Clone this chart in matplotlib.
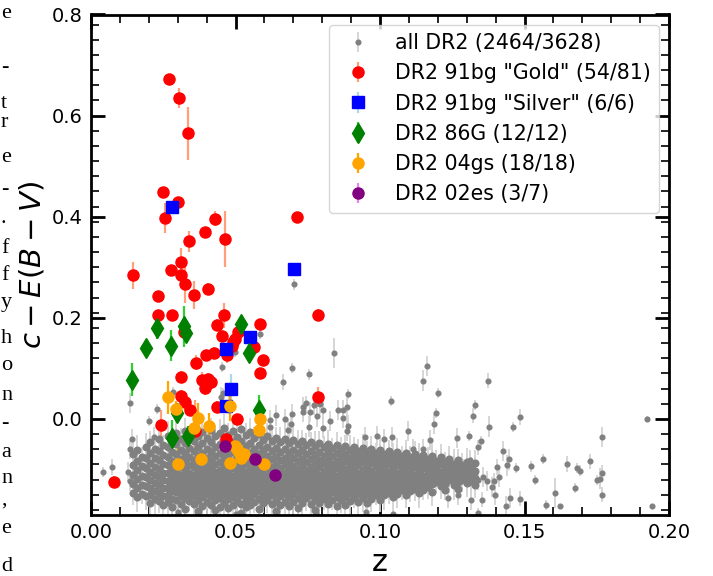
import matplotlib
matplotlib.use("Agg")
import matplotlib.pyplot as plt
from matplotlib.ticker import MultipleLocator

# --- Data ---

# all DR2: dense core, one list of c values per z column
grey_col_z = [
    0.0145, 0.0160, 0.0175, 0.0190, 0.0205, 0.0220, 0.0235, 0.0250, 0.0265, 0.0280,
    0.0295, 0.0310, 0.0325, 0.0340, 0.0355, 0.0370, 0.0385, 0.0400, 0.0415, 0.0430,
    0.0445, 0.0460, 0.0475, 0.0490, 0.0505, 0.0520, 0.0535, 0.0550, 0.0565, 0.0580,
    0.0595, 0.0610, 0.0625, 0.0640, 0.0655, 0.0670, 0.0685, 0.0700, 0.0715, 0.0730,
    0.0745, 0.0760, 0.0775, 0.0790, 0.0805, 0.0820, 0.0835, 0.0850, 0.0865, 0.0880,
    0.0895, 0.0910, 0.0925, 0.0940, 0.0955, 0.0970, 0.0985, 0.1000, 0.1015, 0.1030,
    0.1045, 0.1060, 0.1075, 0.1090, 0.1105, 0.1120, 0.1135, 0.1150, 0.1165, 0.1180,
    0.1195, 0.1210, 0.1225, 0.1240, 0.1255, 0.1270, 0.1285, 0.1300, 0.1315, 0.1330,
]
grey_col_c = [
    [-0.070, -0.092, -0.110, -0.128, -0.146],
    [-0.062, -0.083, -0.101, -0.119, -0.137, -0.155],
    [-0.075, -0.094, -0.112, -0.130, -0.149],
    [-0.055, -0.078, -0.097, -0.115, -0.133, -0.152],
    [-0.046, -0.068, -0.087, -0.104, -0.120, -0.136, -0.151, -0.166],
    [-0.059, -0.078, -0.095, -0.111, -0.127, -0.143, -0.159],
    [-0.040, -0.063, -0.082, -0.099, -0.115, -0.130, -0.146, -0.162],
    [-0.052, -0.072, -0.090, -0.106, -0.121, -0.137, -0.153, -0.170],
    [-0.033, -0.056, -0.075, -0.092, -0.107, -0.122, -0.136, -0.150, -0.165],
    [-0.045, -0.066, -0.084, -0.099, -0.114, -0.129, -0.143, -0.158, -0.175],
    [-0.028, -0.050, -0.070, -0.087, -0.102, -0.117, -0.131, -0.145, -0.160],
    [-0.040, -0.061, -0.079, -0.095, -0.110, -0.124, -0.138, -0.152, -0.168],
    [-0.024, -0.047, -0.067, -0.084, -0.099, -0.113, -0.127, -0.141, -0.156, -0.178],
    [-0.036, -0.058, -0.076, -0.092, -0.106, -0.120, -0.134, -0.148, -0.163],
    [-0.021, -0.044, -0.064, -0.081, -0.096, -0.110, -0.124, -0.138, -0.152, -0.169],
    [-0.033, -0.055, -0.073, -0.089, -0.103, -0.117, -0.131, -0.145, -0.160, -0.183],
    [-0.026, -0.048, -0.067, -0.084, -0.099, -0.113, -0.127, -0.141, -0.155, -0.172],
    [-0.038, -0.059, -0.077, -0.093, -0.107, -0.121, -0.135, -0.149, -0.164],
    [-0.022, -0.045, -0.065, -0.082, -0.097, -0.111, -0.125, -0.139, -0.153, -0.170],
    [-0.034, -0.056, -0.074, -0.090, -0.104, -0.118, -0.132, -0.146, -0.161, -0.180],
    [-0.027, -0.049, -0.068, -0.085, -0.100, -0.114, -0.128, -0.142, -0.157, -0.174],
    [-0.018, -0.041, -0.061, -0.078, -0.094, -0.108, -0.122, -0.136, -0.150, -0.166],
    [-0.031, -0.053, -0.072, -0.088, -0.103, -0.117, -0.131, -0.145, -0.159, -0.177],
    [-0.024, -0.046, -0.066, -0.083, -0.098, -0.112, -0.126, -0.140, -0.154, -0.170],
    [-0.036, -0.057, -0.075, -0.091, -0.105, -0.119, -0.133, -0.147, -0.162],
    [-0.020, -0.043, -0.063, -0.080, -0.095, -0.109, -0.123, -0.137, -0.151, -0.168, -0.186],
    [-0.032, -0.054, -0.073, -0.089, -0.104, -0.118, -0.132, -0.146, -0.160, -0.175],
    [-0.026, -0.048, -0.068, -0.085, -0.100, -0.114, -0.128, -0.142, -0.156, -0.171],
    [-0.038, -0.059, -0.077, -0.093, -0.107, -0.121, -0.135, -0.149, -0.164],
    [-0.029, -0.051, -0.070, -0.086, -0.101, -0.115, -0.129, -0.143, -0.158, -0.178],
    [-0.041, -0.061, -0.079, -0.094, -0.108, -0.122, -0.136, -0.150, -0.166],
    [-0.034, -0.055, -0.073, -0.089, -0.104, -0.118, -0.132, -0.146, -0.161],
    [-0.044, -0.063, -0.080, -0.095, -0.109, -0.123, -0.137, -0.151, -0.168],
    [-0.037, -0.057, -0.075, -0.091, -0.105, -0.119, -0.133, -0.147, -0.163, -0.182],
    [-0.046, -0.065, -0.082, -0.097, -0.111, -0.125, -0.139, -0.153, -0.170],
    [-0.039, -0.059, -0.077, -0.092, -0.106, -0.120, -0.134, -0.148, -0.164],
    [-0.048, -0.067, -0.083, -0.098, -0.112, -0.126, -0.140, -0.155, -0.172],
    [-0.041, -0.061, -0.078, -0.093, -0.107, -0.121, -0.135, -0.149, -0.165],
    [-0.050, -0.068, -0.084, -0.099, -0.113, -0.127, -0.141, -0.156, -0.176],
    [-0.043, -0.062, -0.079, -0.094, -0.108, -0.122, -0.136, -0.150, -0.166],
    [-0.052, -0.070, -0.086, -0.100, -0.114, -0.128, -0.142, -0.157],
    [-0.045, -0.064, -0.080, -0.095, -0.109, -0.123, -0.137, -0.151, -0.168],
    [-0.054, -0.071, -0.087, -0.101, -0.115, -0.129, -0.143, -0.158, -0.180],
    [-0.047, -0.065, -0.081, -0.096, -0.110, -0.124, -0.138, -0.152, -0.167],
    [-0.056, -0.073, -0.088, -0.102, -0.116, -0.130, -0.144, -0.159],
    [-0.049, -0.066, -0.082, -0.097, -0.111, -0.125, -0.139, -0.153, -0.169],
    [-0.058, -0.074, -0.089, -0.103, -0.117, -0.131, -0.145, -0.160],
    [-0.051, -0.068, -0.083, -0.098, -0.112, -0.126, -0.140, -0.154, -0.172],
    [-0.060, -0.076, -0.090, -0.104, -0.118, -0.132, -0.146, -0.161],
    [-0.053, -0.069, -0.084, -0.099, -0.113, -0.127, -0.141, -0.155, -0.170],
    [-0.062, -0.077, -0.091, -0.105, -0.119, -0.133, -0.147, -0.162],
    [-0.055, -0.070, -0.085, -0.100, -0.114, -0.128, -0.142, -0.156],
    [-0.064, -0.078, -0.092, -0.106, -0.120, -0.134, -0.148, -0.164],
    [-0.057, -0.072, -0.086, -0.101, -0.115, -0.129, -0.143, -0.157],
    [-0.066, -0.080, -0.093, -0.107, -0.121, -0.135, -0.149, -0.166],
    [-0.059, -0.073, -0.087, -0.102, -0.116, -0.130, -0.144, -0.158],
    [-0.068, -0.081, -0.094, -0.108, -0.122, -0.136, -0.150],
    [-0.061, -0.075, -0.088, -0.103, -0.117, -0.131, -0.145, -0.160],
    [-0.070, -0.083, -0.096, -0.109, -0.123, -0.137, -0.151],
    [-0.063, -0.076, -0.090, -0.104, -0.118, -0.132, -0.146],
    [-0.072, -0.085, -0.098, -0.111, -0.125, -0.139, -0.154],
    [-0.065, -0.078, -0.092, -0.106, -0.120, -0.134, -0.148],
    [-0.074, -0.087, -0.100, -0.113, -0.127, -0.141],
    [-0.067, -0.080, -0.094, -0.108, -0.122, -0.136, -0.151],
    [-0.076, -0.089, -0.102, -0.115, -0.129, -0.143],
    [-0.069, -0.082, -0.096, -0.110, -0.124, -0.138],
    [-0.078, -0.091, -0.104, -0.117, -0.131, -0.146],
    [-0.071, -0.084, -0.098, -0.112, -0.126, -0.140],
    [-0.080, -0.093, -0.106, -0.120, -0.134],
    [-0.073, -0.087, -0.101, -0.115, -0.129, -0.144],
    [-0.083, -0.097, -0.111, -0.125],
    [-0.076, -0.090, -0.104, -0.118, -0.132],
    [-0.086, -0.100, -0.114, -0.128, -0.141],
    [-0.079, -0.093, -0.107, -0.121],
    [-0.089, -0.103, -0.117, -0.131],
    [-0.082, -0.096, -0.110, -0.124, -0.138],
    [-0.092, -0.106, -0.120],
    [-0.085, -0.099, -0.113, -0.127],
    [-0.095, -0.109, -0.123],
    [-0.088, -0.102, -0.116, -0.130],
]
grey_col_err = [
    0.025, 0.030, 0.020, 0.028, 0.022, 0.030, 0.025, 0.020, 0.028, 0.024,
    0.030, 0.022, 0.026, 0.020, 0.028, 0.025, 0.022, 0.030, 0.024, 0.020,
    0.026, 0.028, 0.022, 0.025, 0.030, 0.020, 0.024, 0.028, 0.022, 0.026,
    0.020, 0.025, 0.028, 0.022, 0.030, 0.024, 0.020, 0.026, 0.028, 0.022,
    0.025, 0.020, 0.030, 0.024, 0.022, 0.028, 0.020, 0.026, 0.025, 0.022,
    0.030, 0.020, 0.024, 0.028, 0.022, 0.026, 0.020, 0.025, 0.030, 0.022,
    0.024, 0.028, 0.020, 0.026, 0.022, 0.025, 0.030, 0.020, 0.024, 0.028,
    0.022, 0.026, 0.020, 0.025, 0.030, 0.022, 0.024, 0.028, 0.020, 0.026,
]

# all DR2: isolated points outside the core
grey_out_z = [
    0.0043, 0.0074, 0.0129, 0.0135, 0.0143, 0.0134, 0.0202, 0.0229, 0.0285, 0.0219,
    0.0135, 0.0452, 0.0498, 0.0585, 0.0702, 0.0697, 0.0841, 0.0755, 0.0663, 0.0890,
    0.1037, 0.1150, 0.1164, 0.1202, 0.1375, 0.1329, 0.1321, 0.1194, 0.1187, 0.1377,
    0.1461, 0.1484, 0.1923, 0.1769, 0.1098, 0.1173, 0.1268, 0.1309, 0.1348, 0.1338,
    0.1424, 0.1563, 0.1521, 0.1536, 0.1646, 0.1683, 0.1692, 0.1727, 0.1767, 0.1750,
    0.1761, 0.1769, 0.1675, 0.1606, 0.1574, 0.1623, 0.1940, 0.1484, 0.1450, 0.1436,
    0.1340, 0.1044, 0.1470, 0.1438, 0.1446, 0.1404, 0.1413, 0.1394, 0.1386, 0.1369,
    0.1357, 0.1398, 0.1311, 0.1288, 0.1322, 0.1338, 0.1314, 0.1352, 0.1271, 0.1237,
    0.0732, 0.0744, 0.0771, 0.0671, 0.0640, 0.0873, 0.0783, 0.0827, 0.0890, 0.0887,
    0.0691, 0.0683, 0.0754, 0.0802, 0.0948, 0.0988, 0.1015, 0.1040, 0.1113, 0.1148,
    0.0619, 0.0621, 0.0873, 0.0450, 0.0458, 0.0479, 0.0694, 0.0735, 0.0758, 0.0792,
    0.0804, 0.0856, 0.0885, 0.0300, 0.0500, 0.0780, 0.0950,
]
grey_out_c = [
    -0.105, -0.095, -0.105, 0.032, -0.039, -0.059, -0.004, 0.019, 0.054, -0.035,
    -0.122, 0.103, 0.132, 0.169, 0.266, 0.101, 0.131, 0.088, 0.073, 0.050,
    0.035, 0.076, 0.104, 0.051, 0.076, 0.027, 0.006, 0.012, -0.010, -0.015,
    -0.016, 0.004, 0.000, -0.036, -0.024, -0.041, -0.037, -0.033, -0.043, -0.056,
    -0.064, -0.080, -0.094, -0.120, -0.089, -0.097, -0.102, -0.084, -0.107, -0.120,
    -0.118, -0.150, -0.136, -0.147, -0.171, -0.173, -0.173, -0.158, -0.157, -0.173,
    -0.186, -0.189, -0.097, -0.092, -0.080, -0.095, -0.114, -0.122, -0.135, -0.122,
    -0.115, -0.151, -0.081, -0.099, -0.101, -0.120, -0.160, -0.160, -0.151, -0.156,
    0.013, 0.031, 0.027, 0.000, 0.007, 0.002, 0.005, -0.004, -0.013, -0.023,
    -0.010, -0.021, -0.015, -0.017, -0.035, -0.033, -0.039, -0.036, -0.059, -0.059,
    -0.003, -0.015, 0.018, 0.043, 0.051, 0.029, 0.010, 0.023, 0.013, 0.029,
    0.017, 0.017, 0.023, -0.185, -0.188, -0.187, -0.185,
]
grey_out_err = [
    0.010, 0.015, 0.020, 0.020, 0.020, 0.020, 0.010, 0.010, 0.010, 0.020,
    0.020, 0.010, 0.010, 0.010, 0.010, 0.010, 0.030, 0.010, 0.015, 0.010,
    0.010, 0.020, 0.020, 0.010, 0.015, 0.010, 0.015, 0.010, 0.020, 0.020,
    0.010, 0.015, 0.005, 0.020, 0.020, 0.020, 0.020, 0.010, 0.010, 0.015,
    0.020, 0.010, 0.010, 0.010, 0.015, 0.010, 0.010, 0.015, 0.015, 0.010,
    0.020, 0.015, 0.010, 0.030, 0.010, 0.005, 0.005, 0.015, 0.020, 0.020,
    0.010, 0.010, 0.010, 0.020, 0.020, 0.015, 0.020, 0.015, 0.020, 0.020,
    0.020, 0.020, 0.020, 0.020, 0.015, 0.020, 0.020, 0.015, 0.020, 0.020,
    0.020, 0.015, 0.020, 0.020, 0.020, 0.020, 0.020, 0.020, 0.020, 0.020,
    0.020, 0.020, 0.020, 0.020, 0.020, 0.020, 0.020, 0.020, 0.020, 0.020,
    0.020, 0.020, 0.020, 0.020, 0.010, 0.020, 0.020, 0.020, 0.020, 0.020,
    0.020, 0.020, 0.020, 0.015, 0.015, 0.015, 0.015,
]

# 91bg "Gold"
gold_z = [
    0.0270, 0.0306, 0.0337, 0.0248, 0.0302, 0.0255, 0.0429, 0.0394, 0.0340, 0.0462,
    0.0712, 0.0144, 0.0311, 0.0278, 0.0311, 0.0325, 0.0405, 0.0357, 0.0231, 0.0231,
    0.0279, 0.0459, 0.0785, 0.0437, 0.0586, 0.0323, 0.0453, 0.0498, 0.0510, 0.0565,
    0.0471, 0.0487, 0.0398, 0.0425, 0.0362, 0.0596, 0.0585, 0.0311, 0.0383, 0.0406,
    0.0415, 0.0394, 0.0785, 0.0311, 0.0325, 0.0343, 0.0437, 0.0504, 0.0360, 0.0243,
    0.0467, 0.0080, 0.0400, 0.0490,
]
gold_c = [
    0.673, 0.635, 0.565, 0.449, 0.429, 0.398, 0.396, 0.369, 0.351, 0.356,
    0.399, 0.284, 0.311, 0.294, 0.284, 0.266, 0.258, 0.245, 0.243, 0.205,
    0.206, 0.205, 0.205, 0.185, 0.187, 0.172, 0.165, 0.159, 0.172, 0.142,
    0.126, 0.144, 0.126, 0.130, 0.111, 0.116, 0.090, 0.083, 0.078, 0.079,
    0.073, 0.062, 0.043, 0.045, 0.033, 0.018, 0.023, 0.000, -0.023, -0.012,
    -0.039, -0.124, 0.070, 0.152,
]
gold_err = [
    0.008, 0.019, 0.052, 0.008, 0.010, 0.030, 0.015, 0.010, 0.020, 0.055,
    0.010, 0.027, 0.028, 0.010, 0.012, 0.036, 0.010, 0.027, 0.008, 0.008,
    0.010, 0.025, 0.012, 0.012, 0.010, 0.012, 0.010, 0.012, 0.010, 0.010,
    0.015, 0.012, 0.010, 0.012, 0.015, 0.010, 0.010, 0.012, 0.015, 0.012,
    0.010, 0.015, 0.020, 0.012, 0.015, 0.012, 0.012, 0.010, 0.060, 0.030,
    0.012, 0.012, 0.012, 0.010,
]

# 91bg "Silver"
silver_z = [0.0280, 0.0704, 0.0550, 0.0467, 0.0483, 0.0467]
silver_c = [0.419, 0.297, 0.162, 0.138, 0.060, 0.025]
silver_err = [0.008, 0.008, 0.010, 0.012, 0.028, 0.010]

# 86G
g86_z = [0.0230, 0.0323, 0.0519, 0.0190, 0.0278, 0.0548,
         0.0143, 0.0580, 0.0281, 0.0337, 0.0297, 0.0330]
g86_c = [0.179, 0.183, 0.187, 0.140, 0.145, 0.131,
         0.078, 0.018, -0.037, -0.033, 0.012, 0.170]
g86_err = [0.020, 0.040, 0.012, 0.012, 0.030, 0.015,
           0.032, 0.030, 0.035, 0.020, 0.020, 0.015]

# 04gs
gs04_z = [0.0265, 0.0293, 0.0371, 0.0408, 0.0357, 0.0480, 0.0584, 0.0581, 0.0498,
          0.0512, 0.0526, 0.0300, 0.0381, 0.0481, 0.0518, 0.0600, 0.0505, 0.0530]
gs04_c = [0.043, 0.020, 0.002, -0.013, -0.017, 0.025, 0.000, -0.022, -0.053,
          -0.066, -0.072, -0.090, -0.079, -0.087, -0.077, -0.090, -0.060, -0.069]
gs04_err = [0.033, 0.015, 0.030, 0.025, 0.035, 0.030, 0.012, 0.012, 0.020,
            0.020, 0.015, 0.056, 0.035, 0.030, 0.025, 0.025, 0.015, 0.015]

# 02es
es02_z = [0.0462, 0.0567, 0.0638]
es02_c = [-0.054, -0.079, -0.110]
es02_err = [0.015, 0.015, 0.006]

# paper text cut off at the left edge of the image
margin_letters = ["e", "-", "t", "r", "e", "-", ".", "f", "f", "y",
                  "h", "o", "n", "-", "a", "n", ",", "e", "d"]
margin_base_px = [18, 72, 108, 127, 162, 194, 223, 253, 280, 307,
                  343, 370, 400, 428, 457, 483, 505, 533, 571]

# --- Flatten the grey core ---
core_z, core_c, core_err = [], [], []
for z, cs, e in zip(grey_col_z, grey_col_c, grey_col_err):
    core_z += [z] * len(cs)
    core_c += cs
    core_err += [e] * len(cs)

# --- Plot ---
W, H = 713, 576
fig = plt.figure(figsize=(W / 100, H / 100), dpi=100)
ax = fig.add_axes([91 / W, 1 - 515 / H, 578 / W, 500.5 / H])

ax.errorbar(core_z, core_c, yerr=core_err, fmt="o", color="grey", ms=4.8,
            ecolor="lightgrey", elinewidth=1.3, capsize=0)
ax.errorbar(grey_out_z, grey_out_c, yerr=grey_out_err, fmt="o", color="grey",
            ms=3.4, ecolor="lightgrey", elinewidth=1.3, capsize=0,
            label="all DR2 (2464/3628)")
ax.errorbar(gold_z, gold_c, yerr=gold_err, fmt="o", color="red", ms=8,
            ecolor="lightsalmon", elinewidth=1.6, capsize=0,
            label='DR2 91bg "Gold" (54/81)')
ax.errorbar(silver_z, silver_c, yerr=silver_err, fmt="s", color="blue", ms=8,
            ecolor="lightblue", elinewidth=1.6, capsize=0,
            label='DR2 91bg "Silver" (6/6)')
ax.errorbar(g86_z, g86_c, yerr=g86_err, fmt="d", color="green", ms=10,
            ecolor="limegreen", elinewidth=1.6, capsize=0,
            label="DR2 86G (12/12)")
ax.errorbar(gs04_z, gs04_c, yerr=gs04_err, fmt="o", color="orange", ms=8,
            ecolor="orange", elinewidth=1.6, capsize=0,
            label="DR2 04gs (18/18)")
ax.errorbar(es02_z, es02_c, yerr=es02_err, fmt="o", color="purple", ms=8,
            ecolor="violet", elinewidth=1.6, capsize=0,
            label="DR2 02es (3/7)")

ax.set_xlim(0.0, 0.2)
ax.set_ylim(-0.19, 0.8)
ax.xaxis.set_major_locator(MultipleLocator(0.05))
ax.xaxis.set_minor_locator(MultipleLocator(0.01))
ax.yaxis.set_major_locator(MultipleLocator(0.2))
ax.yaxis.set_minor_locator(MultipleLocator(0.03))
ax.tick_params(which="both", direction="in", top=True, right=True, labelsize=14)
ax.tick_params(which="major", length=10, width=2)
ax.tick_params(which="minor", length=6, width=1.2)
ax.tick_params(axis="x", pad=6)
ax.tick_params(axis="y", pad=6)
for sp in ax.spines.values():
    sp.set_linewidth(2)

ax.set_xlabel("z", fontsize=22)
ax.set_ylabel(r"$c-E(B-V)$", fontsize=21)

ax.legend(loc="upper right", fontsize=14.8, labelspacing=0.5)

for ch, yb in zip(margin_letters, margin_base_px):
    fig.text(1 / W, 1 - yb / H, ch, ha="left", va="baseline",
             family="Liberation Serif", fontsize=16)

fig.savefig("out.png", dpi=100)
